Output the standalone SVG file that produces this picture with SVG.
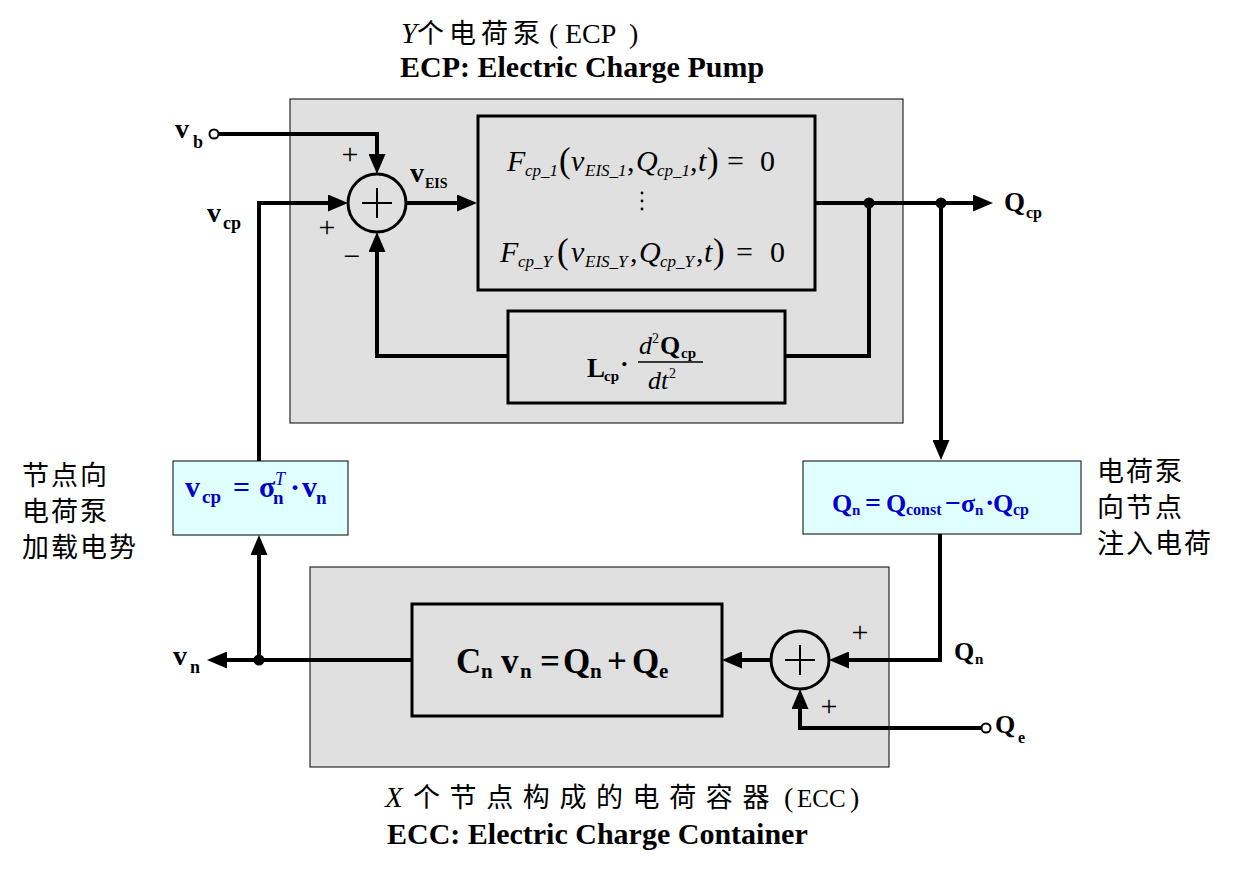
<svg xmlns="http://www.w3.org/2000/svg" width="1254" height="871" viewBox="0 0 1254 871">
<style>
.gbox{fill:#e0e0e0;stroke:#000;stroke-width:1}
.blk{fill:none;stroke:#000;stroke-width:3}
.cyan{fill:#e0ffff;stroke:#000;stroke-width:1}
.wire{fill:none;stroke:#000;stroke-width:4;marker-end:url(#ah)}
.wn{fill:none;stroke:#000;stroke-width:4}
.sum{fill:none;stroke:#000;stroke-width:3}
.cross{stroke:#000;stroke-width:2}
.dot{fill:#000}
.term{fill:#fff;stroke:#000;stroke-width:2}
.ser{font-family:"Liberation Serif","Noto Sans CJK SC",serif}
.b{font-family:"Liberation Serif",serif;font-weight:bold}
.it{font-family:"Liberation Serif",serif;font-style:italic}
.rm{font-family:"Liberation Serif",serif;font-style:normal}
.cj{font-family:"Noto Sans CJK SC",sans-serif}
.sign{font-family:"Liberation Serif",serif;font-size:30px;text-anchor:middle}
.blue{fill:#0000cc}
</style>
<defs>
<marker id="ah" markerUnits="userSpaceOnUse" markerWidth="20" markerHeight="17" refX="2" refY="8.5" orient="auto">
<path d="M0,0 L20,8.5 L0,17 z" fill="#000"/>
</marker>
</defs>

<g id="ecp">
<rect class="gbox" x="290" y="99" width="613" height="324"/>
</g>
<g id="ecc">
<rect class="gbox" x="310" y="567" width="579" height="200"/>
</g>

<g id="title-top">
<text class="ser" font-size="28" y="43"><tspan x="401" font-style="italic" font-size="29">Y</tspan><tspan class="cj" x="417" font-size="27" letter-spacing="5">个电荷泵</tspan><tspan x="549">(</tspan><tspan x="565">ECP</tspan><tspan x="629">)</tspan></text>
<text class="b" font-size="30" x="400" y="77">ECP: Electric Charge Pump</text>
</g>

<g id="title-bottom">
<text class="ser" font-size="28" y="807"><tspan x="385" font-style="italic" font-size="29">X</tspan><tspan class="cj" x="413" font-size="27" letter-spacing="9.6">个节点构成的电荷容器</tspan><tspan x="784">(</tspan><tspan x="797" font-size="25">ECC</tspan><tspan x="850">)</tspan></text>
<text class="b" font-size="30" x="387" y="844">ECC: Electric Charge Container</text>
</g>

<g id="sum1">
<circle class="sum" cx="377" cy="203" r="29"/>
<line class="cross" x1="362" y1="203" x2="392" y2="203"/>
<line class="cross" x1="377" y1="188" x2="377" y2="218"/>
</g>

<g id="fbox">
<rect class="blk" x="478" y="116" width="337" height="174"/>
<text class="it" font-size="30" y="171"><tspan x="507">F</tspan><tspan x="525" y="176" font-size="17">cp_1</tspan><tspan class="rm" x="559" y="172" font-size="35">(</tspan><tspan x="571" y="171">v</tspan><tspan x="585" y="176" font-size="17">EIS_1</tspan><tspan class="rm" x="627" y="171">,</tspan><tspan x="636">Q</tspan><tspan x="657" y="176" font-size="17">cp_1</tspan><tspan class="rm" x="690" y="171">,</tspan><tspan x="698">t</tspan><tspan class="rm" x="707" y="172" font-size="35">)</tspan><tspan class="rm" x="727" y="171">=</tspan><tspan class="rm" x="760">0</tspan></text>
<circle class="dot" cx="642" cy="193" r="1.4"/>
<circle class="dot" cx="642" cy="201" r="1.4"/>
<circle class="dot" cx="642" cy="209" r="1.4"/>
<text class="it" font-size="30" y="262"><tspan x="500">F</tspan><tspan x="518" y="267" font-size="17">cp_Y</tspan><tspan class="rm" x="557" y="263" font-size="35">(</tspan><tspan x="571" y="262">v</tspan><tspan x="585" y="267" font-size="17">EIS_Y</tspan><tspan class="rm" x="630" y="262">,</tspan><tspan x="639">Q</tspan><tspan x="660" y="267" font-size="17">cp_Y</tspan><tspan class="rm" x="696" y="262">,</tspan><tspan x="704">t</tspan><tspan class="rm" x="713" y="263" font-size="35">)</tspan><tspan class="rm" x="736" y="262">=</tspan><tspan class="rm" x="770">0</tspan></text>
</g>

<g id="lbox">
<rect class="blk" x="508" y="311" width="277" height="92"/>
<text class="b" font-size="27" x="587" y="377">L</text>
<text class="b" font-size="15" x="604" y="381">cp</text>
<text class="b" font-size="26" x="620" y="372">·</text>
<text class="it" font-size="26" x="639" y="354">d</text>
<text class="rm" font-size="14" x="652" y="343">2</text>
<text class="b" font-size="26" x="660" y="354">Q</text>
<text class="b" font-size="15" x="681" y="358">cp</text>
<line x1="638" y1="362" x2="703" y2="362" stroke="#000" stroke-width="1.5"/>
<text class="it" font-size="26" x="648" y="389">dt</text>
<text class="rm" font-size="14" x="669" y="378">2</text>
</g>

<g id="vcpbox">
<rect class="cyan" x="173" y="461" width="175" height="74"/>
<g class="blue">
<text class="b" font-size="30" x="185" y="497">v</text>
<text class="b" font-size="19" x="202" y="503">cp</text>
<text class="b" font-size="30" x="233" y="497">=</text>
<text class="b" font-size="30" x="259" y="497">σ</text>
<text class="it" font-size="18" x="275" y="485">T</text>
<text class="b" font-size="19" x="273" y="504">n</text>
<text class="b" font-size="30" x="290" y="497">·</text>
<text class="b" font-size="30" x="302" y="497">v</text>
<text class="b" font-size="19" x="316" y="504">n</text>
</g>
</g>

<g id="qnbox">
<rect class="cyan" x="803" y="461" width="278" height="73"/>
<g class="blue">
<text class="b" font-size="26" x="832" y="512">Q</text>
<text class="b" font-size="15" x="852" y="515">n</text>
<text class="b" font-size="28" x="865" y="512">=</text>
<text class="b" font-size="26" x="886" y="512">Q</text>
<text class="b" font-size="16" x="906" y="515">const</text>
<text class="b" font-size="28" x="945" y="512">−</text>
<text class="b" font-size="26" x="961" y="512">σ</text>
<text class="b" font-size="15" x="975" y="515">n</text>
<text class="b" font-size="28" x="985" y="512">·</text>
<text class="b" font-size="26" x="993" y="512">Q</text>
<text class="b" font-size="16" x="1013" y="515">cp</text>
</g>
</g>

<g id="cbox">
<rect class="blk" x="412" y="604" width="310" height="112"/>
<text class="b" font-size="35" x="456" y="673">C</text>
<text class="b" font-size="21" x="481" y="678">n</text>
<text class="b" font-size="35" x="501" y="673">v</text>
<text class="b" font-size="21" x="520" y="678">n</text>
<text class="b" font-size="35" x="540" y="673">=</text>
<text class="b" font-size="35" x="563" y="673">Q</text>
<text class="b" font-size="21" x="590" y="678">n</text>
<text class="b" font-size="35" x="607" y="673">+</text>
<text class="b" font-size="35" x="632" y="673">Q</text>
<text class="b" font-size="21" x="659" y="678">e</text>
</g>

<g id="sum2">
<circle class="sum" cx="800" cy="660" r="29"/>
<line class="cross" x1="785" y1="660" x2="815" y2="660"/>
<line class="cross" x1="800" y1="645" x2="800" y2="675"/>
</g>

<g id="connectors">
<circle class="term" cx="214" cy="134" r="4.5"/>
<path class="wire" d="M218.5,134 H377 V156"/>
<path class="wire" d="M259,461 V203 H330"/>
<path class="wire" d="M406,203 H459"/>
<path class="wire" d="M815,203 H975"/>
<path class="wn" d="M869,203 V356 H785"/>
<path class="wire" d="M508,356 H377 V250"/>
<circle class="dot" cx="869" cy="203" r="5.5"/>
<circle class="dot" cx="941" cy="203" r="5.5"/>
<path class="wire" d="M941,203 V442"/>
<path class="wire" d="M940,534 V660 H847"/>
<circle class="term" cx="986" cy="728" r="4.5"/>
<path class="wire" d="M981.5,728 H800 V707"/>
<path class="wire" d="M771,660 H740"/>
<path class="wire" d="M412,660 H225"/>
<circle class="dot" cx="259" cy="660" r="5.5"/>
<path class="wire" d="M259,660 V553"/>
</g>

<g id="labels">
<text class="b" font-size="28" x="175" y="138">v</text>
<text class="b" font-size="18" x="193" y="148">b</text>
<text class="b" font-size="28" x="207" y="222">v</text>
<text class="b" font-size="18" x="223" y="229">cp</text>
<text class="b" font-size="28" x="410" y="182">v</text>
<text class="b" font-size="14" x="425" y="188">EIS</text>
<text class="b" font-size="27" x="1004" y="211">Q</text>
<text class="b" font-size="16" x="1026" y="218">cp</text>
<text class="b" font-size="28" x="173" y="665">v</text>
<text class="b" font-size="18" x="190" y="673">n</text>
<text class="b" font-size="26" x="954" y="660">Q</text>
<text class="b" font-size="15" x="975" y="664">n</text>
<text class="b" font-size="26" x="995" y="733">Q</text>
<text class="b" font-size="16" x="1018" y="743">e</text>
<text class="sign" x="350" y="164">+</text>
<text class="sign" x="327" y="237">+</text>
<text class="sign" x="352" y="266">−</text>
<text class="sign" x="860" y="642">+</text>
<text class="sign" x="829" y="716">+</text>
</g>

<g id="side-left">
<text class="cj" font-size="27" letter-spacing="2" x="22" y="485">节点向</text>
<text class="cj" font-size="27" letter-spacing="2" x="22" y="521">电荷泵</text>
<text class="cj" font-size="27" letter-spacing="2" x="22" y="557">加载电势</text>
</g>
<g id="side-right">
<text class="cj" font-size="27" letter-spacing="2" x="1097" y="481">电荷泵</text>
<text class="cj" font-size="27" letter-spacing="2" x="1097" y="517">向节点</text>
<text class="cj" font-size="27" letter-spacing="2" x="1097" y="553">注入电荷</text>
</g>
</svg>
